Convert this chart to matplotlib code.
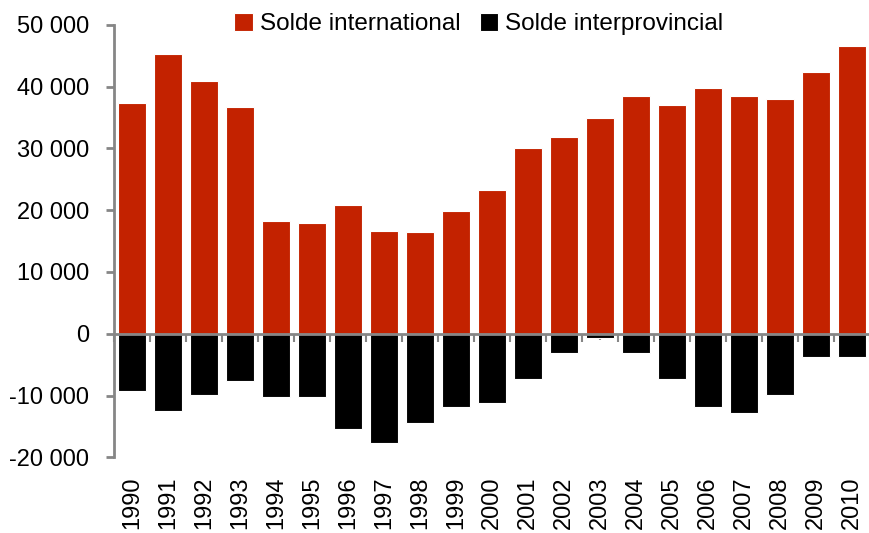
import matplotlib
matplotlib.use("Agg")
import matplotlib.pyplot as plt
from matplotlib.ticker import FuncFormatter, FixedLocator
import numpy as np

years = [str(y) for y in range(1990, 2011)]
solde_international = [37400, 45200, 40900, 36700, 18300, 18000, 20900, 16700, 16400, 19900,
                       23200, 30000, 31900, 34900, 38400, 37100, 39700, 38400, 38000, 42300, 46500]
solde_interprovincial = [-9200, -12500, -9900, -7600, -10200, -10200, -15400, -17700, -14400, -11800,
                         -11200, -7300, -3100, -700, -3100, -7300, -11800, -12800, -9900, -3800, -3800]

plt.rcParams['font.family'] = ['Liberation Sans', 'DejaVu Sans']

fig = plt.figure(figsize=(8.7, 5.33), dpi=100)
ax = fig.add_axes([114/870, 1-457.3/533, 1-114/870, (457.3-24.8)/533])

red = '#C32200'
x = np.arange(len(years))
ax.bar(x, solde_international, width=0.8, color=red, edgecolor='white', linewidth=0.8,
       label='Solde international', zorder=2)
ax.bar(x, solde_interprovincial, width=0.8, color='black', edgecolor='white', linewidth=0.8,
       label='Solde interprovincial', zorder=2)

ax.set_xlim(-0.5, len(years) - 0.5)
ax.set_ylim(-20000, 50000)
ax.set_yticks(np.arange(-20000, 50001, 10000))
ax.yaxis.set_major_formatter(FuncFormatter(lambda v, p: f"{int(v):,}".replace(",", " ")))

gray = '#868686'
for s in ['top', 'right']:
    ax.spines[s].set_visible(False)
ax.spines['left'].set_color(gray)
ax.spines['left'].set_linewidth(2)
ax.spines['bottom'].set_position(('data', 0))
ax.spines['bottom'].set_color(gray)
ax.spines['bottom'].set_linewidth(2)
ax.spines['bottom'].set_zorder(3)

ax.tick_params(axis='y', colors=gray, labelcolor='black', labelsize=17, length=6, width=2, direction='out', pad=12)
ax.xaxis.set_major_locator(FixedLocator(np.arange(-0.5, len(years), 1.0)))
ax.xaxis.set_minor_locator(FixedLocator(x))
ax.tick_params(axis='x', which='major', colors=gray, length=6, width=1.5, direction='out', labelbottom=False)
ax.tick_params(axis='x', which='minor', colors=gray, length=4, width=1.5, direction='out', labelbottom=False)

sec = ax.secondary_xaxis('bottom')
sec.set_xticks(x)
sec.set_xticklabels(years, rotation=90, fontsize=17)
sec.tick_params(length=0, pad=14)
for s in sec.spines.values():
    s.set_visible(False)

fig.legend(loc='center', bbox_to_anchor=(479/870, 1-24/533), ncol=2, frameon=False,
           fontsize=17.5, handlelength=0.75, handleheight=0.75, handletextpad=0.3,
           columnspacing=0.8, borderpad=0)

fig.savefig('out.png', dpi=100)
